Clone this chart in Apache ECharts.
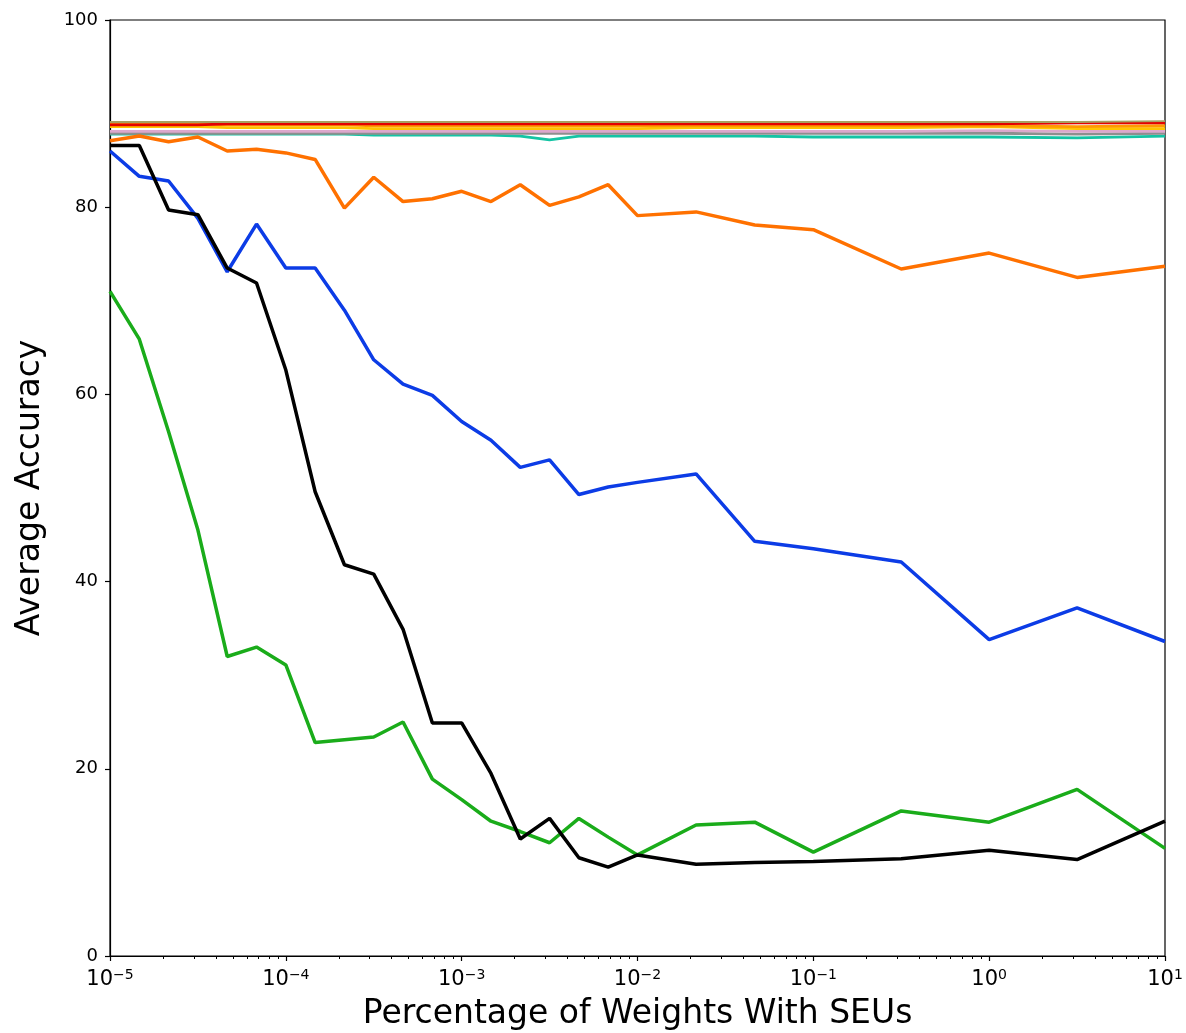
<!DOCTYPE html>
<html>
<head>
<meta charset="utf-8">
<script src="https://cdn.jsdelivr.net/npm/echarts@6/dist/echarts.min.js"></script>
<style>
  html, body { margin: 0; padding: 0; background: #fff; }
  #chart { width: 1186px; height: 1033px; }
</style>
</head>
<body>
<div id="chart"></div>
<script>
// ---------------- data ----------------
const fractions = [1e-5, 1.468e-5, 2.154e-5, 3.162e-5, 4.642e-5, 6.813e-5,
  1e-4, 1.468e-4, 2.154e-4, 3.162e-4, 4.642e-4, 6.813e-4,
  1e-3, 1.468e-3, 2.154e-3, 3.162e-3, 4.642e-3, 6.813e-3,
  1e-2, 2.154e-2, 4.642e-2, 1e-1, 3.162e-1, 1, 3.162, 10];

const black = [86.6, 86.6, 79.7, 79.2, 73.5, 71.9, 62.6, 49.6, 41.8, 40.8, 34.9, 24.9,
  24.9, 19.5, 12.5, 14.7, 10.5, 9.5, 10.8, 9.8, 10.0, 10.1, 10.4, 11.3, 10.3, 14.4];
const blue = [86.0, 83.3, 82.8, 78.8, 73.1, 78.2, 73.5, 73.5, 69.0, 63.7, 61.1, 59.9,
  57.1, 55.1, 52.2, 53.0, 49.3, 50.1, 50.6, 51.5, 44.3, 43.5, 42.1, 33.8, 37.2, 33.6];
const green = [71.0, 65.9, 56.0, 45.5, 32.0, 33.0, 31.1, 22.8, 23.1, 23.4, 25.0, 18.9,
  16.7, 14.4, 13.3, 12.1, 14.7, 12.7, 10.8, 14.0, 14.3, 11.1, 15.5, 14.3, 17.8, 11.5];
const orange = [87.1, 87.6, 87.0, 87.5, 86.0, 86.2, 85.8, 85.1, 79.9, 83.2, 80.6, 80.9,
  81.7, 80.6, 82.4, 80.2, 81.1, 82.4, 79.1, 79.5, 78.1, 77.6, 73.4, 75.1, 72.5, 73.7];
const olive = [89.1, 89.1, 89.1, 89.1, 89.1, 89.1, 89.1, 89.1, 89.1, 89.1, 89.1, 89.1,
  89.1, 89.1, 89.1, 89.1, 89.1, 89.1, 89.1, 89.1, 89.1, 89.1, 89.1, 89.1, 89.1, 89.2];
const red = [88.8, 88.8, 88.8, 88.8, 88.9, 88.9, 88.9, 88.9, 88.9, 88.9, 88.9, 88.9,
  88.9, 88.9, 88.9, 88.9, 88.9, 88.9, 88.9, 88.9, 88.9, 88.9, 88.9, 88.9, 89.0, 89.0];
const amber = [89.0, 89.0, 88.9, 88.9, 88.8, 88.8, 88.8, 88.8, 88.8, 88.7, 88.7, 88.7,
  88.7, 88.7, 88.7, 88.7, 88.7, 88.7, 88.7, 88.7, 88.7, 88.7, 88.7, 88.7, 88.6, 88.7];
const gold = [88.6, 88.6, 88.6, 88.6, 88.5, 88.5, 88.5, 88.5, 88.5, 88.4, 88.4, 88.4,
  88.4, 88.4, 88.4, 88.4, 88.4, 88.4, 88.4, 88.5, 88.5, 88.5, 88.5, 88.6, 88.4, 88.4];
const pink = [88.1, 88.1, 88.1, 88.1, 88.1, 88.1, 88.1, 88.1, 88.1, 88.1, 88.1, 88.1,
  88.1, 88.1, 88.1, 88.1, 88.1, 88.1, 88.1, 88.1, 88.1, 88.1, 88.1, 88.2, 88.1, 88.1];
const gray = [87.9, 87.9, 87.9, 87.9, 87.9, 87.9, 87.9, 87.9, 87.9, 87.9, 87.9, 87.9,
  87.9, 87.9, 87.9, 87.9, 87.9, 87.9, 87.9, 87.9, 87.9, 87.9, 87.9, 87.9, 87.8, 87.9];
const teal = [87.8, 87.8, 87.8, 87.8, 87.8, 87.8, 87.8, 87.8, 87.8, 87.7, 87.7, 87.7,
  87.7, 87.7, 87.6, 87.2, 87.6, 87.6, 87.6, 87.6, 87.6, 87.5, 87.5, 87.5, 87.4, 87.6];

const yTicks = [0, 20, 40, 60, 80, 100];
const xMajor = [1e-5, 1e-4, 1e-3, 1e-2, 1e-1, 1, 10];
// minor log ticks at 2..9 of each decade
const xMinor = [];
for (let d = -5; d < 1; d++) {
  for (let m = 2; m <= 9; m++) xMinor.push(m * Math.pow(10, d));
}

const FONT = 'DejaVu Sans';

// ---------------- chart ----------------
const chart = echarts.init(document.getElementById('chart'));

const line = (name, values, color, width) => ({
  name: name,
  type: 'line',
  xAxisIndex: 0,
  data: fractions.map((f, i) => [f, values[i]]),
  symbol: 'none',
  smooth: false,
  animation: false,
  lineStyle: { color: color, width: width },
  z: 2
});

const sup = v => {
  const e = Math.round(Math.log10(v));
  return '{b|10}{s|' + (e < 0 ? '\u2212' + (-e) : e) + '}';
};

chart.setOption({
  animation: false,
  backgroundColor: '#fff',
  grid: {
    left: 110, right: 21, top: 20, bottom: 77,
    outerBoundsMode: 'none', containLabel: false,
    show: true, borderColor: '#000', borderWidth: 1.2
  },
  xAxis: [{
    type: 'log', logBase: 10, min: 1e-5, max: 10,
    name: 'Percentage of Weights With SEUs',
    nameLocation: 'middle', nameGap: 42,
    nameTextStyle: { fontFamily: FONT, fontSize: 33, color: '#000' },
    axisLine: { lineStyle: { color: '#000', width: 1.2 } },
    axisTick: { inside: false, length: 5, customValues: xMajor, lineStyle: { color: '#000', width: 1.2 } },
    axisLabel: {
      customValues: xMajor, margin: 12,
      formatter: sup,
      rich: {
        b: { fontFamily: FONT, fontSize: 21, color: '#000' },
        s: { fontFamily: FONT, fontSize: 14, color: '#000', padding: [0, 0, 10, 0] }
      }
    },
    splitLine: { show: false }
  }, {
    type: 'log', logBase: 10, min: 1e-5, max: 10,
    position: 'bottom',
    axisLine: { show: false },
    axisTick: { inside: false, length: 3, customValues: xMinor, lineStyle: { color: '#000', width: 1 } },
    axisLabel: { show: false },
    splitLine: { show: false }
  }],
  yAxis: {
    type: 'value', min: 0, max: 100, interval: 20,
    name: 'Average Accuracy',
    nameLocation: 'middle', nameGap: 63, nameRotate: 90,
    nameTextStyle: { fontFamily: FONT, fontSize: 33, color: '#000' },
    axisLine: { show: true, lineStyle: { color: '#000', width: 1.2 } },
    axisTick: { show: true, inside: false, length: 5, customValues: yTicks, lineStyle: { color: '#000', width: 1.2 } },
    axisLabel: { customValues: yTicks, margin: 12, fontFamily: FONT, fontSize: 18, color: '#000' },
    splitLine: { show: false }
  },
  series: [
    line('teal', teal, '#14c4a4', 2.8),
    line('gray', gray, '#8e8e8e', 2.8),
    line('pink', pink, '#dca8cc', 2.6),
    line('gold', gold, '#ffc400', 2.8),
    line('amber', amber, '#ff9a00', 2.8),
    line('red', red, '#e40000', 2.8),
    line('olive', olive, '#a8a060', 1.8),
    line('orange', orange, '#ff7100', 3.5),
    line('blue', blue, '#0c3ce6', 3.5),
    line('green', green, '#1aac1a', 3.5),
    line('black', black, '#000000', 3.5)
  ]
});
</script>
</body>
</html>
